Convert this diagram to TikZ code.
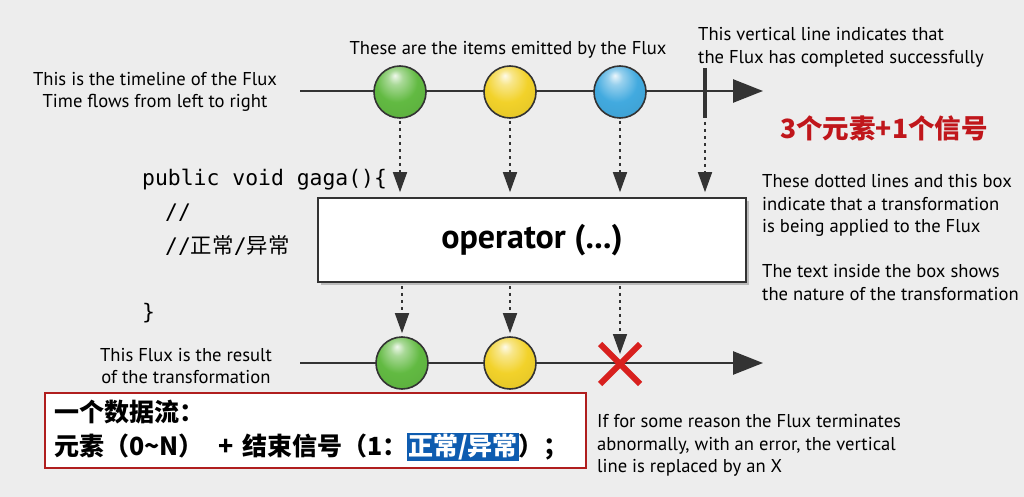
\documentclass[tikz,border=0pt]{standalone}
\usepackage{fontspec}
\setmainfont{PT Sans}
\setmonofont{DejaVu Sans Mono}
\newfontfamily\cjk{Noto Sans CJK SC}
\usetikzlibrary{arrows.meta,positioning,shadows,shapes.misc,calc}

\definecolor{bgcol}{HTML}{EDEDED}
\definecolor{linecol}{HTML}{333333}
\definecolor{greenball}{HTML}{62BA42}
\definecolor{yellowball}{HTML}{F2D22A}
\definecolor{blueball}{HTML}{42AADF}
\definecolor{errred}{HTML}{D8201E}
\definecolor{noteRed}{HTML}{C0161B}
\definecolor{boxred}{HTML}{B01E1E}
\definecolor{hlblue}{HTML}{0E5CB0}
\colorlet{marblecol}{gray}

% glossy marble with a highlight at the upper left
\pgfdeclareradialshading[marblecol]{glossy}{\pgfqpoint{-5bp}{16bp}}{%
  color(0bp)=(marblecol!10!white); color(7bp)=(marblecol!55!white);
  color(20bp)=(marblecol); color(40bp)=(marblecol!92!black); color(55bp)=(marblecol!78!black)}

\tikzset{
  marble/.style={circle, draw=linecol, line width=1.6pt, minimum size=52pt, inner sep=0pt, shading=glossy},
  marble color/.code={\colorlet{marblecol}{#1}},
  flow/.style={line width=2.6pt, draw=linecol, -{Triangle[length=30pt,width=23pt]}},
  dots/.style={line width=1.6pt, draw=linecol, dash pattern=on 3pt off 4pt, -{Triangle[length=20pt,width=14pt]}},
  note/.style={font=\fontsize{18.6}{22.7}\selectfont, inner sep=0pt},
  code/.style={font=\fontsize{21.4}{26}\selectfont\ttfamily, inner sep=0pt, anchor=west}
}

\begin{document}
\begin{tikzpicture}[x=1pt, y=-1pt]
  \fill[bgcol] (0,0) rectangle (1024,497);
  \useasboundingbox (0,0) rectangle (1024,497);

  % source timeline
  \coordinate (top0) at (300,91);
  \coordinate (top1) at (763,91);
  \coordinate (done) at (705,91);
  \draw[flow] (top0) -- (top1);
  \draw[line width=4pt, linecol] ($(done)+(0,-23)$) -- ($(done)+(0,27)$);
  \node[marble, marble color=greenball] (in1) at (400,92) {};
  \node[marble, marble color=yellowball] (in2) at (510,92) {};
  \node[marble, marble color=blueball] (in3) at (620,92) {};

  % operator box
  \node[draw=linecol, line width=1.6pt, fill=white, drop shadow={shadow xshift=3pt, shadow yshift=-3pt, opacity=0.45},
        minimum width=428pt, minimum height=84pt] (op) at (532,240)
        {\fontsize{34}{40}\selectfont\bfseries operator (...)};

  \draw[dots, shorten <=2pt, shorten >=5pt] (in1.south) -- (in1.south |- op.north);
  \draw[dots, shorten <=2pt, shorten >=5pt] (in2.south) -- (in2.south |- op.north);
  \draw[dots, shorten <=2pt, shorten >=5pt] (in3.south) -- (in3.south |- op.north);
  \draw[dots, shorten <=2pt, shorten >=5pt] ($(done)+(0,29)$) -- (done |- op.north);

  % result timeline
  \coordinate (bot0) at (300,363);
  \coordinate (bot1) at (763,363);
  \draw[flow] (bot0) -- (bot1);
  \node[marble, marble color=greenball] (out1) at (402,363) {};
  \node[marble, marble color=yellowball] (out2) at (510,363) {};
  \node[cross out, draw=errred, line width=6pt, minimum size=34pt, inner sep=0pt] (err) at (620,364) {};

  \draw[dots, shorten <=3pt, shorten >=3pt] (op.south -| out1) -- (out1.north);
  \draw[dots, shorten <=3pt, shorten >=3pt] (op.south -| out2) -- (out2.north);
  \draw[dots, shorten <=3pt, shorten >=10pt] (op.south -| err) -- (err.center);

  % explanations
  \node[note, align=center] (timeline) at (155,92) {This is the timeline of the Flux\\Time flows from left to right};
  \node[note] (items) at (508,50) {These are the items emitted by the Flux};
  \node[note, align=left, anchor=west] (complete) at (698,47) {This vertical line indicates that\\the Flux has completed successfully};
  \node[font=\cjk\bfseries\fontsize{26.5}{30}\selectfont, text=noteRed, inner sep=0pt] (count) at (884,128) {3个元素+1个信号};
  \node[note, align=left, anchor=north west] (dotted) at (762,174) {These dotted lines and this box\\indicate that a transformation\\is being applied to the Flux};
  \node[note, align=left, anchor=north west] (nature) at (762,264) {The text inside the box shows\\the nature of the transformation};
  \node[note, align=center] (result) at (186,366) {This Flux is the result\\of the transformation};
  \node[note, align=left, anchor=north west] (error) at (597,414) {If for some reason the Flux terminates\\abnormally, with an error, the vertical\\line is replaced by an X};

  % code
  \node[code] (code1) at (142,180) {public void gaga()\{};
  \node[code] (code2) at (165,213) {//};
  \node[code] (code3) at (165,245) {//{\cjk 正常}/{\cjk 异常}};
  \node[code] (code4) at (142,313) {\}};

  % summary box
  \node[draw=boxred, line width=2pt, fill=white, anchor=north west, minimum width=541pt, minimum height=75pt,
        align=left, inner xsep=9pt, text width=523pt, font=\cjk\bfseries\fontsize{25}{34}\selectfont] (stream) at (44,392)
        {一个数据流：\\元素（0\textasciitilde N）\hspace{15pt}+ 结束信号（1：{\setlength{\fboxsep}{1pt}\colorbox{hlblue}{\textcolor{white}{正常/异常}}}）；};
\end{tikzpicture}
\end{document}
